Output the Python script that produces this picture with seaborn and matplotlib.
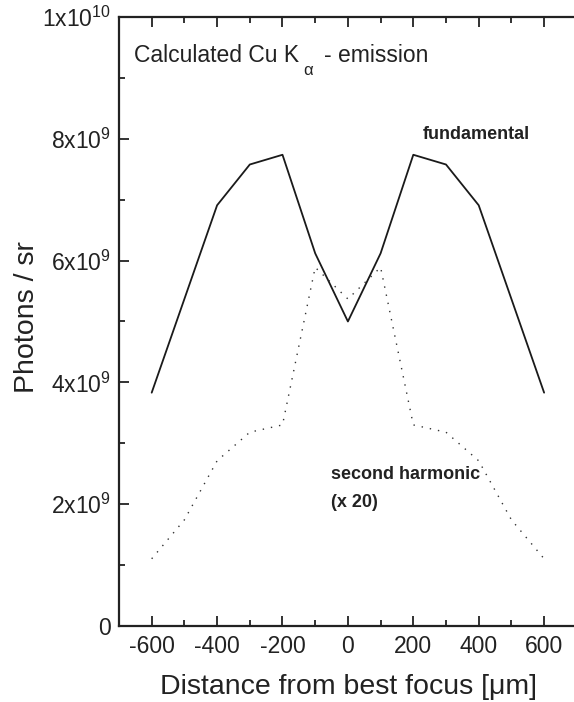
import numpy as np
import pandas as pd
import seaborn as sns
import matplotlib.pyplot as plt
from matplotlib.ticker import MultipleLocator, FixedLocator, FixedFormatter

# distance from best focus (um)
distance = [-600, -500, -400, -300, -200, -100, 0, 100, 200, 300, 400, 500, 600]
# photons / sr
fundamental = [3.83e9, 5.37e9, 6.91e9, 7.58e9, 7.74e9, 6.12e9, 5.00e9,
               6.12e9, 7.74e9, 7.58e9, 6.91e9, 5.37e9, 3.83e9]
second_harmonic = [1.10e9, 1.74e9, 2.71e9, 3.18e9, 3.30e9, 5.89e9, 5.37e9,
                   5.89e9, 3.30e9, 3.18e9, 2.71e9, 1.74e9, 1.10e9]

ytick_vals = [0, 2e9, 4e9, 6e9, 8e9, 1e10]
ytick_labels = ['0', r'$\mathregular{2x10^9}$', r'$\mathregular{4x10^9}$',
                r'$\mathregular{6x10^9}$', r'$\mathregular{8x10^9}$',
                r'$\mathregular{1x10^{10}}$']

data = pd.DataFrame({'distance': distance, 'fundamental': fundamental,
                     'second': second_harmonic})

sns.set_style('ticks')
plt.rcParams['font.family'] = ['Liberation Sans', 'DejaVu Sans']
plt.rcParams['mathtext.fontset'] = 'custom'
plt.rcParams['mathtext.rm'] = 'Liberation Sans'
plt.rcParams['mathtext.it'] = 'Liberation Sans:italic'
plt.rcParams['axes.unicode_minus'] = False

fig = plt.figure(figsize=(5.74, 7.02), dpi=100)
ax = fig.add_axes([0.2073, 0.1087, 0.7976, 0.8667])

sns.lineplot(x='distance', y='fundamental', data=data, ax=ax,
             color='#1a1a1a', linewidth=1.3)
sns.lineplot(x='distance', y='second', data=data, ax=ax,
             color='#333333', linewidth=1.0, linestyle=(0, (1, 5)))

ax.set_xlim(-700, 700)
ax.set_ylim(0, 1e10)

ax.xaxis.set_major_locator(MultipleLocator(200))
ax.xaxis.set_minor_locator(MultipleLocator(100))
ax.yaxis.set_major_locator(FixedLocator(ytick_vals))
ax.yaxis.set_major_formatter(FixedFormatter(ytick_labels))
ax.yaxis.set_minor_locator(MultipleLocator(1e9))

ax.tick_params(axis='both', which='both', direction='in', width=1.3,
               color='#222222', labelsize=16.5, labelcolor='#222222')
ax.tick_params(axis='both', which='major', length=7)
ax.tick_params(axis='both', which='minor', length=4)
ax.tick_params(axis='x', which='both', top=True, pad=7)
ax.tick_params(axis='y', which='both', right=False, pad=6)

for side in ['left', 'bottom', 'top']:
    ax.spines[side].set_linewidth(1.6)
    ax.spines[side].set_color('#222222')
ax.spines['right'].set_visible(False)

ax.set_xlabel('Distance from best focus [\u03bcm]', fontsize=20.5,
              color='#222222')
ax.set_ylabel('Photons / sr', fontsize=20.5, color='#222222')
ax.xaxis.set_label_coords(0.502, -0.079)
ax.yaxis.set_label_coords(-0.172, 0.508)

# title in three pieces so the alpha subscript sits low like the original
ax.text(-653, 9.37e9, 'Calculated Cu K', fontsize=16.5,
        color='#222222', va='center')
ax.text(-138, 9.12e9, '\u03b1', fontsize=12, color='#222222', va='center')
ax.text(-73, 9.37e9, '- emission', fontsize=16.5,
        color='#222222', va='center')

ax.text(229, 8.07e9, 'fundamental', fontsize=13, fontweight='bold',
        color='#222222', va='center')
ax.text(-53, 2.48e9, 'second harmonic', fontsize=13, fontweight='bold',
        color='#222222', va='center')
ax.text(-53, 2.02e9, '(x 20)', fontsize=13, fontweight='bold',
        color='#222222', va='center')

plt.savefig('out.png', dpi=100)
